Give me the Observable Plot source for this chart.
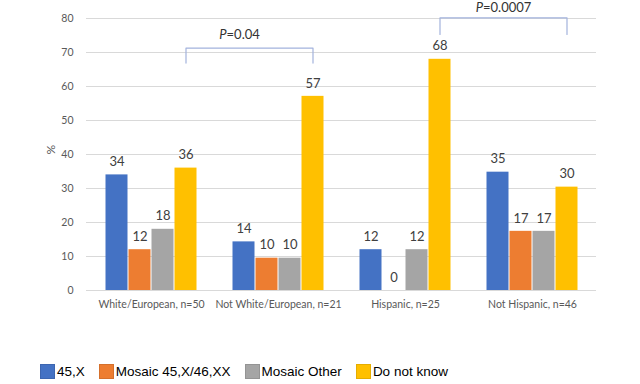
<!DOCTYPE html>
<html>
<head>
<meta charset="utf-8">
<script src="https://cdn.jsdelivr.net/npm/d3@7"></script>
<script src="https://cdn.jsdelivr.net/npm/@observablehq/plot@0.6"></script>
<style>
  html, body { margin: 0; padding: 0; background: #fff; }
  #wrap { position: relative; width: 640px; height: 384px; overflow: hidden; }
  #legend { position: absolute; top: 364px; left: 40px; display: flex; align-items: center;
            font-family: "Liberation Sans", Arial, sans-serif; font-size: 13.5px; color: #000; }
  #legend .item { display: flex; align-items: center; margin-right: 14px; }
  #legend .sw { width: 15px; height: 15px; margin-right: 2px; box-sizing: border-box; }
</style>
</head>
<body>
<div id="wrap"><div id="chart"></div><div id="legend"></div></div>
<script>
const categories = ["White/European, n=50", "Not White/European, n=21", "Hispanic, n=25", "Not Hispanic, n=46"];
const series = ["45,X", "Mosaic 45,X/46,XX", "Mosaic Other", "Do not know"];
const colors = ["#4472C4", "#ED7D31", "#A5A5A5", "#FFC000"];
const v45X = [34, 14.3, 12, 34.8];
const vMosaic4546 = [12, 9.5, 0, 17.4];
const vMosaicOther = [18, 9.5, 12, 17.4];
const vDoNotKnow = [36, 57.1, 68, 30.4];
const yTicks = [0, 10, 20, 30, 40, 50, 60, 70, 80];
const bracketFrom = [categories[0], categories[2]];
const bracketTo = [categories[1], categories[3]];
const bracketTop = [71.3, 80.2];
const bracketBottom = [66.9, 75.3];
const bracketLabels = ["P=0.04", "P=0.0007"];
const yLabel = "%";

const seriesValues = [v45X, vMosaic4546, vMosaicOther, vDoNotKnow];
const rows = series.map((s, i) => categories.map((c, j) => ({category: c, series: s, value: seriesValues[i][j]})));

const bw = 23; // bar width within group
const marks = [];
marks.push(Plot.ruleY(yTicks, {stroke: "#D9D9D9", strokeWidth: 1}));
rows.forEach((r, i) => {
  marks.push(Plot.barY(r, {x: "category", y: "value", fill: "series", insetLeft: i * bw + 0.5, insetRight: (3 - i) * bw + 0.5}));
  marks.push(Plot.text(r, {x: "category", y: "value", text: d => String(Math.round(d.value)), dx: (i - 1.5) * bw, dy: -13, fill: "#404040", fontSize: 13}));
});
const yellowDx = 1.5 * bw;
const textDx = [88, 98];
const textDy = [-9, -6];
bracketLabels.forEach((lab, k) => {
  const pts = [
    {x: bracketFrom[k], y: bracketBottom[k]},
    {x: bracketFrom[k], y: bracketTop[k]},
    {x: bracketTo[k], y: bracketTop[k]},
    {x: bracketTo[k], y: bracketBottom[k]}
  ];
  marks.push(Plot.line(pts, {x: "x", y: "y", dx: yellowDx, stroke: "#A3B3DD", strokeWidth: 1.2}));
  marks.push(Plot.text([{x: bracketFrom[k], y: bracketTop[k], t: lab}], {x: "x", y: "y", text: "t", dx: textDx[k], dy: textDy[k] - 4, fontSize: 13, fill: "#333"}));
});
marks.push(Plot.text([{y: 40, t: yLabel}], {y: "y", text: "t", frameAnchor: "left", dx: -35, rotate: -90, fontSize: 12, fill: "#595959"}));

const chart = Plot.plot({
  width: 640,
  height: 320,
  marginLeft: 86,
  marginRight: 44,
  marginTop: 18,
  marginBottom: 30,
  style: {fontFamily: "Lato, sans-serif", fontSize: "10.5px", color: "#595959", background: "#fff", overflow: "visible"},
  x: {domain: categories, paddingInner: 0.278, paddingOuter: 0.139, tickSize: 0, tickPadding: 10, label: null},
  y: {domain: [0, 80], ticks: yTicks, tickSize: 0, tickPadding: 13, label: null},
  color: {domain: series, range: colors},
  marks
});
document.getElementById("chart").appendChild(chart);

// italic "P" in p-value labels
d3.select(chart).selectAll("g[aria-label='text'] text").each(function() {
  const t = this.textContent;
  if (/^P=/.test(t)) {
    const sel = d3.select(this);
    sel.text("");
    sel.append("tspan").attr("font-style", "italic").text("P");
    sel.append("tspan").text(t.slice(1));
  }
});

const legend = d3.select("#legend");
series.forEach((s, i) => {
  const it = legend.append("div").attr("class", "item");
  it.append("div").attr("class", "sw").style("background", colors[i]).style("border", "1px solid " + d3.color(colors[i]).darker(0.3));
  it.append("span").text(s);
});
</script>
</body>
</html>
